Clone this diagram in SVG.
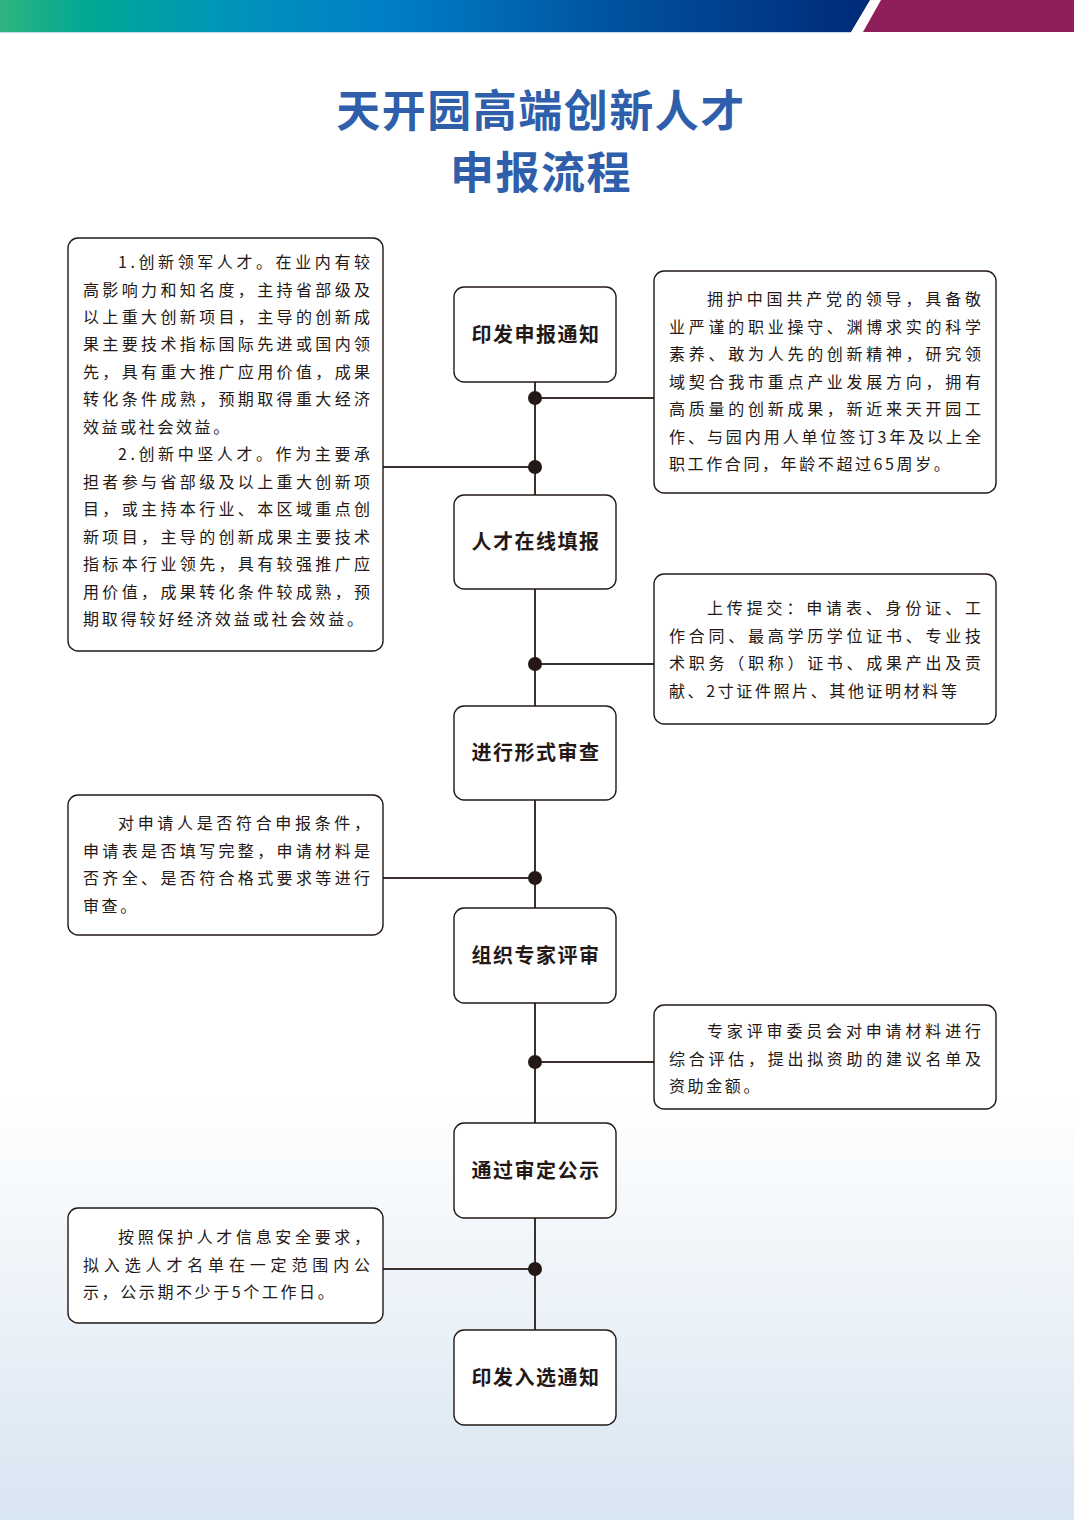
<svg xmlns="http://www.w3.org/2000/svg" width="1074" height="1520" viewBox="0 0 1074 1520">
<defs>
<linearGradient id="bg" x1="0" y1="0" x2="0" y2="1520" gradientUnits="userSpaceOnUse">
<stop offset="0" stop-color="#ffffff"/>
<stop offset="0.72" stop-color="#ffffff"/>
<stop offset="1" stop-color="#d8e5f2"/>
</linearGradient>
<linearGradient id="bar" x1="0" y1="0" x2="870" y2="0" gradientUnits="userSpaceOnUse">
<stop offset="0" stop-color="#2fb47f"/>
<stop offset="0.1" stop-color="#00a893"/>
<stop offset="0.25" stop-color="#0096b8"/>
<stop offset="0.45" stop-color="#007ec8"/>
<stop offset="0.7" stop-color="#0053a0"/>
<stop offset="1" stop-color="#002a78"/>
</linearGradient>
<style>
.box{fill:#ffffff;stroke:#231815;stroke-width:1.4}
.step{font-family:"Noto Sans CJK SC","Noto Sans",sans-serif;font-size:20px;font-weight:700;fill:#231815;text-anchor:middle;letter-spacing:1.5px}
.t{font-family:"Noto Sans CJK SC","Noto Sans",sans-serif;font-size:16px;font-weight:400;fill:#231815}
.n{letter-spacing:2.6px}
.title{font-family:"Noto Sans CJK SC","Noto Sans",sans-serif;font-size:44px;font-weight:700;fill:#2f5fab;text-anchor:middle;letter-spacing:1.5px}
.line{stroke:#3a302c;stroke-width:2;fill:none}
.dot{fill:#231815}
</style>
</defs>
<rect x="0" y="0" width="1074" height="1520" fill="url(#bg)"/>
<g id="banner">
<polygon points="0,0 870,0 851,32 0,32" fill="url(#bar)"/>
<polygon points="881,0 1074,0 1074,32 863,32" fill="#8e1f5a"/>
<line x1="0" y1="32.5" x2="851" y2="32.5" stroke="#b8dcec" stroke-width="1"/>
</g>
<g id="title">
<text class="title" x="541" y="127">天开园高端创新人才</text>
<text class="title" x="541" y="189">申报流程</text>
</g>
<g id="connectors">
<line class="line" x1="535" y1="382" x2="535" y2="1330"/>
<line class="line" x1="535" y1="398" x2="654" y2="398"/>
<line class="line" x1="383" y1="467" x2="535" y2="467"/>
<line class="line" x1="535" y1="664" x2="654" y2="664"/>
<line class="line" x1="383" y1="878" x2="535" y2="878"/>
<line class="line" x1="535" y1="1062" x2="654" y2="1062"/>
<line class="line" x1="383" y1="1269" x2="535" y2="1269"/>
<circle class="dot" cx="535" cy="398" r="7"/>
<circle class="dot" cx="535" cy="467" r="7"/>
<circle class="dot" cx="535" cy="664" r="7"/>
<circle class="dot" cx="535" cy="878" r="7"/>
<circle class="dot" cx="535" cy="1062" r="7"/>
<circle class="dot" cx="535" cy="1269" r="7"/>
</g>
<g id="step1"><rect class="box" x="454" y="287" width="162" height="95" rx="10"/><text class="step" x="536" y="342">印发申报通知</text></g>
<g id="step2"><rect class="box" x="454" y="495" width="162" height="94" rx="10"/><text class="step" x="536" y="549">人才在线填报</text></g>
<g id="step3"><rect class="box" x="454" y="706" width="162" height="94" rx="10"/><text class="step" x="536" y="760">进行形式审查</text></g>
<g id="step4"><rect class="box" x="454" y="908" width="162" height="95" rx="10"/><text class="step" x="536" y="963">组织专家评审</text></g>
<g id="step5"><rect class="box" x="454" y="1123" width="162" height="95" rx="10"/><text class="step" x="536" y="1178">通过审定公示</text></g>
<g id="step6"><rect class="box" x="454" y="1330" width="162" height="95" rx="10"/><text class="step" x="536" y="1385">印发入选通知</text></g>
<g id="note-talent-types">
<rect class="box" x="68" y="238" width="315" height="413" rx="10"/>
<text class="t" x="118" y="268" textLength="252" lengthAdjust="spacing">1.创新领军人才。在业内有较</text>
<text class="t" x="83" y="295.5" textLength="287" lengthAdjust="spacing">高影响力和知名度，主持省部级及</text>
<text class="t" x="83" y="323" textLength="287" lengthAdjust="spacing">以上重大创新项目，主导的创新成</text>
<text class="t" x="83" y="350.4" textLength="287" lengthAdjust="spacing">果主要技术指标国际先进或国内领</text>
<text class="t" x="83" y="377.8" textLength="287" lengthAdjust="spacing">先，具有重大推广应用价值，成果</text>
<text class="t" x="83" y="405.3" textLength="287" lengthAdjust="spacing">转化条件成熟，预期取得重大经济</text>
<text class="t n" x="83" y="432.8">效益或社会效益。</text>
<text class="t" x="118" y="460.2" textLength="252" lengthAdjust="spacing">2.创新中坚人才。作为主要承</text>
<text class="t" x="83" y="487.7" textLength="287" lengthAdjust="spacing">担者参与省部级及以上重大创新项</text>
<text class="t" x="83" y="515.1" textLength="287" lengthAdjust="spacing">目，或主持本行业、本区域重点创</text>
<text class="t" x="83" y="542.6" textLength="287" lengthAdjust="spacing">新项目，主导的创新成果主要技术</text>
<text class="t" x="83" y="570" textLength="287" lengthAdjust="spacing">指标本行业领先，具有较强推广应</text>
<text class="t" x="83" y="597.5" textLength="287" lengthAdjust="spacing">用价值，成果转化条件较成熟，预</text>
<text class="t" x="83" y="625" textLength="280" lengthAdjust="spacing">期取得较好经济效益或社会效益。</text>
</g>
<g id="note-conditions">
<rect class="box" x="654" y="271" width="342" height="222" rx="10"/>
<text class="t" x="707" y="305" textLength="274" lengthAdjust="spacing">拥护中国共产党的领导，具备敬</text>
<text class="t" x="669" y="332.5" textLength="312" lengthAdjust="spacing">业严谨的职业操守、渊博求实的科学</text>
<text class="t" x="669" y="360" textLength="312" lengthAdjust="spacing">素养、敢为人先的创新精神，研究领</text>
<text class="t" x="669" y="387.5" textLength="312" lengthAdjust="spacing">域契合我市重点产业发展方向，拥有</text>
<text class="t" x="669" y="415" textLength="312" lengthAdjust="spacing">高质量的创新成果，新近来天开园工</text>
<text class="t" x="669" y="442.5" textLength="312" lengthAdjust="spacing">作、与园内用人单位签订3年及以上全</text>
<text class="t n" x="669" y="470">职工作合同，年龄不超过65周岁。</text>
</g>
<g id="note-upload">
<rect class="box" x="654" y="574" width="342" height="150" rx="10"/>
<text class="t" x="707" y="614" textLength="274" lengthAdjust="spacing">上传提交：申请表、身份证、工</text>
<text class="t" x="669" y="641.5" textLength="312" lengthAdjust="spacing">作合同、最高学历学位证书、专业技</text>
<text class="t" x="669" y="669" textLength="312" lengthAdjust="spacing">术职务（职称）证书、成果产出及贡</text>
<text class="t n" x="669" y="696.5">献、2寸证件照片、其他证明材料等</text>
</g>
<g id="note-review">
<rect class="box" x="68" y="795" width="315" height="140" rx="10"/>
<text class="t" x="118" y="829" textLength="252" lengthAdjust="spacing">对申请人是否符合申报条件，</text>
<text class="t" x="83" y="856.5" textLength="287" lengthAdjust="spacing">申请表是否填写完整，申请材料是</text>
<text class="t" x="83" y="884" textLength="287" lengthAdjust="spacing">否齐全、是否符合格式要求等进行</text>
<text class="t n" x="83" y="911.5">审查。</text>
</g>
<g id="note-expert">
<rect class="box" x="654" y="1005" width="342" height="104" rx="10"/>
<text class="t" x="707" y="1037" textLength="274" lengthAdjust="spacing">专家评审委员会对申请材料进行</text>
<text class="t" x="669" y="1064.5" textLength="312" lengthAdjust="spacing">综合评估，提出拟资助的建议名单及</text>
<text class="t n" x="669" y="1092">资助金额。</text>
</g>
<g id="note-publicity">
<rect class="box" x="68" y="1208" width="315" height="115" rx="10"/>
<text class="t" x="118" y="1243" textLength="252" lengthAdjust="spacing">按照保护人才信息安全要求，</text>
<text class="t" x="83" y="1270.5" textLength="287" lengthAdjust="spacing">拟入选人才名单在一定范围内公</text>
<text class="t n" x="83" y="1298">示，公示期不少于5个工作日。</text>
</g>
</svg>
